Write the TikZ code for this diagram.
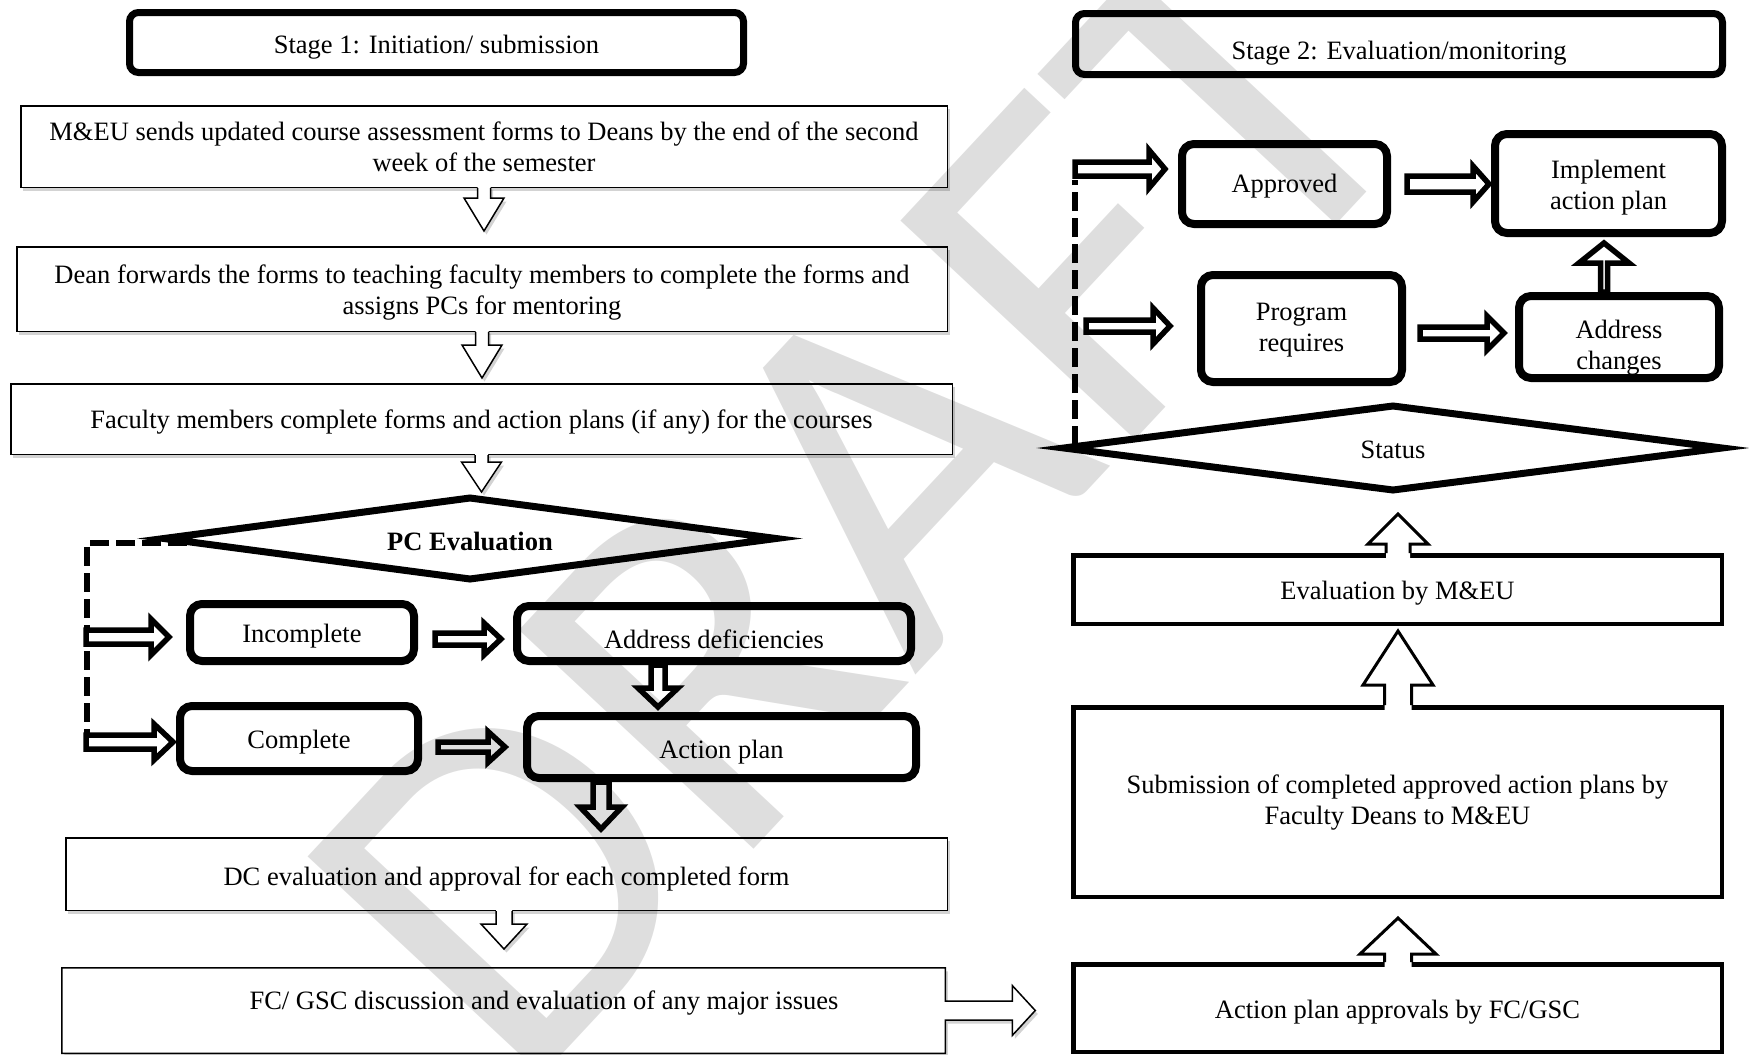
\documentclass[tikz,border=0pt]{standalone}
\usepackage{fontspec}
\setmainfont{Liberation Serif}
\newfontfamily\wmfont{Carlito}
\usetikzlibrary{calc,shapes.geometric,shadows}

% text lowered by #1 (single line)
\newcommand\SL[2][3.5pt]{\raisebox{-#1}[\height][\depth]{#2}}
% text lowered by #1 (several lines)
\newcommand\ML[2][3.5pt]{\raisebox{-#1}[\height][\depth]{\begin{tabular}{@{}c@{}}#2\end{tabular}}}

% closed block arrows: #1 style, #2 start, #3 tip, #4 shaft half width, #5 head half width, #6 head length
\newcommand\ArrR[6]{\draw[#1] let \p1=(#2), \p2=(#3) in (\x1,\y2-#4) -- (\x2-#6,\y2-#4) -- (\x2-#6,\y2-#5) -- (\x2,\y2) -- (\x2-#6,\y2+#5) -- (\x2-#6,\y2+#4) -- (\x1,\y2+#4) -- cycle;}
\newcommand\ArrD[6]{\draw[#1] let \p1=(#2), \p2=(#3) in (\x2-#4,\y1) -- (\x2-#4,\y2+#6) -- (\x2-#5,\y2+#6) -- (\x2,\y2) -- (\x2+#5,\y2+#6) -- (\x2+#4,\y2+#6) -- (\x2+#4,\y1) -- cycle;}
\newcommand\ArrU[6]{\draw[#1] let \p1=(#2), \p2=(#3) in (\x2-#4,\y1) -- (\x2-#4,\y2-#6) -- (\x2-#5,\y2-#6) -- (\x2,\y2) -- (\x2+#5,\y2-#6) -- (\x2+#4,\y2-#6) -- (\x2+#4,\y1) -- cycle;}
% open-based block arrows (base merges into the box edge)
\newcommand\ArrDo[6]{%
  \fill[#1 fill] let \p1=(#2), \p2=(#3) in (\x2-#4,\y1+2pt) -- (\x2-#4,\y2+#6) -- (\x2-#5,\y2+#6) -- (\x2,\y2) -- (\x2+#5,\y2+#6) -- (\x2+#4,\y2+#6) -- (\x2+#4,\y1+2pt) -- cycle;
  \draw[#1] let \p1=(#2), \p2=(#3) in (\x2-#4,\y1) -- (\x2-#4,\y2+#6) -- (\x2-#5,\y2+#6) -- (\x2,\y2) -- (\x2+#5,\y2+#6) -- (\x2+#4,\y2+#6) -- (\x2+#4,\y1);}
\newcommand\ArrUo[6]{%
  \fill[#1 fill] let \p1=(#2), \p2=(#3) in (\x2-#4,\y1-5pt) -- (\x2-#4,\y2-#6) -- (\x2-#5,\y2-#6) -- (\x2,\y2) -- (\x2+#5,\y2-#6) -- (\x2+#4,\y2-#6) -- (\x2+#4,\y1-5pt) -- cycle;
  \draw[#1] let \p1=(#2), \p2=(#3) in (\x2-#4,\y1) -- (\x2-#4,\y2-#6) -- (\x2-#5,\y2-#6) -- (\x2,\y2) -- (\x2+#5,\y2-#6) -- (\x2+#4,\y2-#6) -- (\x2+#4,\y1);}

\begin{document}
\begin{tikzpicture}[x=1pt,y=-1pt,
  every node/.style={font=\fontsize{26.5}{31}\selectfont, align=center, inner sep=0pt},
  shadowed/.style={drop shadow={shadow xshift=2.5pt,shadow yshift=-3.5pt,opacity=0.35}},
  thinbox/.style={rectangle, draw, line width=1.5pt, outer sep=0.75pt, fill=white, shadowed},
  thinline/.style={draw, line width=1.5pt, fill=white, shadowed},
  stagebox/.style={rectangle, draw, line width=7pt, rounded corners=9pt, outer sep=3.5pt},
  rbox/.style={rectangle, draw, line width=8pt, rounded corners=12pt, outer sep=4pt},
  sqbox/.style={rectangle, draw, line width=4.5pt, outer sep=2.25pt},
  decision/.style={diamond, draw, line width=7pt, outer sep=0pt, aspect=7.5},
  dashln/.style={line width=6pt, dash pattern=on 19pt off 7pt},
  tarrow/.style={draw, fill=white, line width=5.5pt, line join=miter},
  thinarrow/.style={draw, line width=1.5pt, line join=miter},
  thinarrow fill/.style={fill=white, shadowed},
  uarrow/.style={draw, line width=3pt, line join=miter},
  uarrow fill/.style={fill=white}]
\useasboundingbox (0,0) rectangle (1749,1055);

% ---------------- Stage 1 ----------------
\node[stagebox, minimum width=614pt, minimum height=60pt] (s1) at (436.5,42.5) {\SL[5pt]{Stage 1: Initiation/ submission}};
\node[thinbox, minimum width=926.5pt, minimum height=81.5pt] (boxA) at (484,146.5) {\ML[3.5pt]{M\&EU sends updated course assessment forms to Deans by the end of the second\\week of the semester}};
\node[thinbox, minimum width=930.5pt, minimum height=84.5pt] (boxB) at (482,289) {\ML[3.5pt]{Dean forwards the forms to teaching faculty members to complete the forms and\\assigns PCs for mentoring}};
\node[thinbox, minimum width=941.5pt, minimum height=70.5pt] (boxC) at (481.5,419) {\SL[3.5pt]{Faculty members complete forms and action plans (if any) for the courses}};
\node[decision, minimum width=612pt, minimum height=81pt] (pc) at (470,538.5) {\SL[2.5pt]{\textbf{PC Evaluation}}};
\node[rbox, minimum width=224pt, minimum height=57pt] (inc) at (302,632.5) {\SL[3.5pt]{Incomplete}};
\node[rbox, minimum width=394pt, minimum height=55pt] (addr) at (714,633.5) {\SL[6pt]{Address deficiencies}};
\node[rbox, minimum width=238pt, minimum height=65pt] (comp) at (299,738.5) {\SL[3.5pt]{Complete}};
\node[rbox, minimum width=389pt, minimum height=62pt] (act) at (721.5,747) {\SL[5pt]{Action plan}};
\node[thinbox, minimum width=881.5pt, minimum height=72.5pt] (dc) at (506.5,874) {\SL[4.5pt]{DC evaluation and approval for each completed form}};
\node[rectangle, minimum width=883.5pt, minimum height=85.5pt, outer sep=0pt] (fc) at (503.5,1010.5) {};
\draw[thinline, line join=miter] (fc.north west) -- (fc.north east) -- ($(fc.east)+(0,-9.5)$) -- ($(fc.east)+(67,-9.5)$) -- ($(fc.east)+(67,-25)$) -- ($(fc.east)+(90,0)$) -- ($(fc.east)+(67,25)$) -- ($(fc.east)+(67,9.5)$) -- ($(fc.east)+(0,9.5)$) -- (fc.south east) -- (fc.south west) -- cycle;
\node (fcT) at (544,1003) {FC/ GSC discussion and evaluation of any major issues};

% dashed branch line of PC evaluation
\coordinate (pcL) at ($(pc.center)+(-383,4.5)$);
\coordinate (pcB) at ($(pcL |- comp.center)+(0,4)$);
\draw[dashln] ($(pc.center)+(-283,4.5)$) -- (pcL) -- (pcB);

% arrows, stage 1
\ArrDo{thinarrow}{boxA.south}{$(boxA.south)+(0,43)$}{6.5pt}{20pt}{33pt}
\ArrDo{thinarrow}{boxB.south}{$(boxB.south)+(0,46)$}{6.5pt}{20pt}{33pt}
\ArrDo{thinarrow}{boxC.south}{$(boxC.south)+(0,37)$}{6.5pt}{20pt}{30pt}
\ArrR{tarrow}{$(pcL |- inc.center)+(-1,4.5)$}{$(inc.west)+(-17,4.5)$}{7pt}{18pt}{18pt}
\ArrR{tarrow}{$(pcL |- comp.center)+(-1,3.5)$}{$(comp.west)+(-3,3.5)$}{7pt}{18pt}{19pt}
\ArrR{tarrow}{$(inc.east)+(17,6.5)$}{$(addr.west)+(-12,5.5)$}{6pt}{16pt}{17pt}
\ArrR{tarrow}{$(comp.east)+(16,8.5)$}{$(act.west)+(-18,0)$}{5pt}{15.5pt}{17pt}
\ArrD{tarrow}{$(addr.south)+(-56,0)$}{$(act.north)+(-63.5,-5)$}{7pt}{20pt}{19pt}
\ArrD{tarrow}{$(act.south)+(-120.5,0)$}{$(dc.north)+(94.5,-8)$}{8pt}{21pt}{22pt}
\ArrDo{thinarrow}{$(dc.south)+(-2.5,0)$}{$(dc.south)+(-2.5,38)$}{8pt}{23pt}{25pt}

% ---------------- Stage 2 ----------------
\node[stagebox, minimum width=647pt, minimum height=61pt] (s2) at (1399,44) {\SL[9.5pt]{Stage 2: Evaluation/monitoring}};
\node[rbox, minimum width=205pt, minimum height=80pt] (apv) at (1284.5,184) {\SL[2pt]{Approved}};
\node[rbox, minimum width=227pt, minimum height=99pt] (impl) at (1608.5,183.5) {\ML[4pt]{Implement\\action plan}};
\node[rbox, minimum width=201pt, minimum height=107pt] (prog) at (1301.5,328.5) {\ML[1pt]{Program\\requires}};
\node[rbox, minimum width=200pt, minimum height=82pt] (achg) at (1619,337) {};
\node (achgT) at (1619,348) {Address\\changes};
\node[decision, minimum width=658pt, minimum height=84pt, aspect=7.8] (status) at (1393,448) {\SL[2pt]{Status}};
\node[sqbox, minimum width=648.5pt, minimum height=68.5pt] (eval) at (1397.5,589.5) {\SL[3.5pt]{Evaluation by M\&EU}};
\node[sqbox, minimum width=648.5pt, minimum height=189.5pt] (subm) at (1397.5,802) {\ML[1pt]{Submission of completed approved action plans by\\Faculty Deans to M\&EU}};
\node[sqbox, minimum width=648.5pt, minimum height=87.5pt] (appr) at (1397.5,1008) {\SL[4pt]{Action plan approvals by FC/GSC}};

\coordinate (stL) at ($(status.center)+(-318,-3)$);
\coordinate (stT) at ($(apv.west)+(-103,-4)$);
\draw[dashln] (stL) -- (stT);

\ArrR{tarrow}{$(stT)+(0,-11)$}{$(apv.west)+(-13,-15)$}{7pt}{19pt}{16pt}
\ArrR{tarrow}{$(stT)+(11,146)$}{$(prog.west)+(-27,-2.5)$}{6pt}{18pt}{17pt}
\ArrR{tarrow}{$(apv.east)+(16,0)$}{$(impl.west)+(-2,0.5)$}{8pt}{18pt}{16pt}
\ArrR{tarrow}{$(prog.east)+(14,0)$}{$(achg.west)+(-11,-4)$}{6pt}{17pt}{17pt}
\ArrU{tarrow}{$(achg.north)+(-15,0)$}{$(impl.south)+(-4.5,6)$}{3.5pt}{25pt}{20pt}
\ArrUo{uarrow}{$(eval.north)+(0.5,0)$}{$(status.center)+(5,66)$}{12pt}{30pt}{30pt}
\ArrUo{uarrow}{$(subm.north)+(0.5,0)$}{$(eval.south)+(0.5,5)$}{13.5pt}{35pt}{54pt}
\ArrUo{uarrow}{$(appr.north)+(0.5,0)$}{$(subm.south)+(0.5,19)$}{13.5pt}{38pt}{36pt}

% ---------------- watermark ----------------
\begin{scope}
\clip (0,0) rectangle (1749,1055);
\node[rotate=47, text=black, text opacity=0.13, font=\wmfont\fontsize{500pt}{500pt}\selectfont] (wm) at (860,500) {DRAFT};
\end{scope}
\end{tikzpicture}
\end{document}
